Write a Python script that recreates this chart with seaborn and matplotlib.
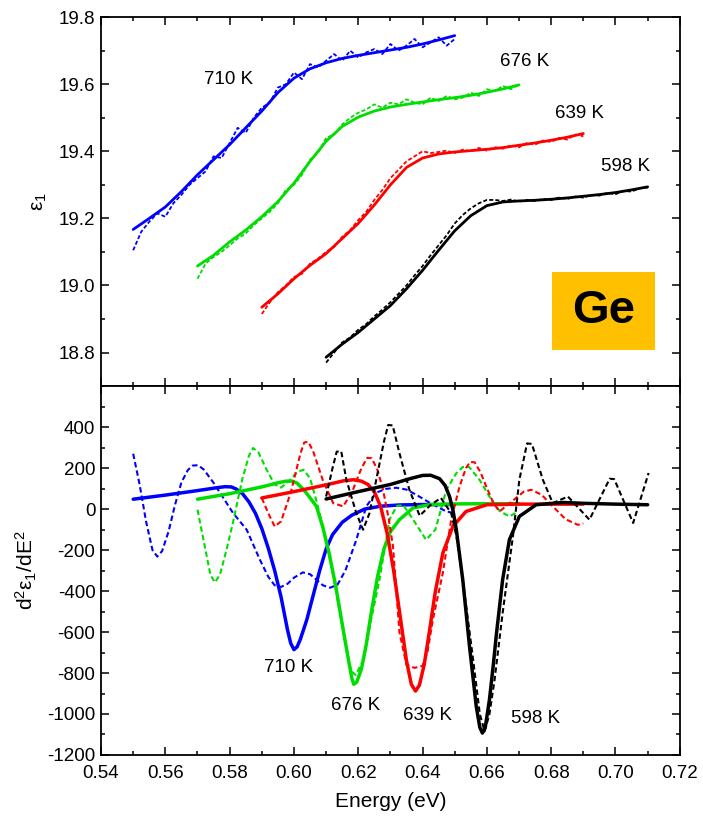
import numpy as np
import pandas as pd
import matplotlib
matplotlib.use("Agg")
import matplotlib.pyplot as plt
import seaborn as sns
from matplotlib.ticker import MultipleLocator, FormatStrFormatter
from matplotlib.patches import Rectangle

# temperaturas y energia inicial de cada medida
temps = ["710 K", "676 K", "639 K", "598 K"]
start_energy = [0.55, 0.57, 0.59, 0.61]
fit_grid = np.linspace(0, 0.10, 21)
data_grid = np.linspace(0, 0.10, 41)

# panel superior: epsilon_1 (ajuste)
eps_fit_710 = [19.167, 19.20, 19.234, 19.28, 19.33, 19.375, 19.42, 19.47, 19.52, 19.575, 19.618,
               19.646, 19.664, 19.677, 19.686, 19.694, 19.702, 19.71, 19.72, 19.732, 19.745]
eps_fit_676 = [19.058, 19.09, 19.13, 19.165, 19.205, 19.25, 19.305, 19.37, 19.43, 19.474, 19.502,
               19.52, 19.532, 19.54, 19.547, 19.554, 19.56, 19.567, 19.576, 19.586, 19.598]
eps_fit_639 = [18.935, 18.975, 19.02, 19.06, 19.095, 19.14, 19.185, 19.24, 19.30, 19.352, 19.38,
               19.392, 19.398, 19.402, 19.406, 19.411, 19.418, 19.425, 19.433, 19.442, 19.453]
eps_fit_598 = [18.786, 18.825, 18.86, 18.90, 18.94, 18.99, 19.045, 19.105, 19.163, 19.208, 19.238,
               19.249, 19.252, 19.254, 19.257, 19.261, 19.266, 19.271, 19.277, 19.285, 19.294]

# panel superior: epsilon_1 (datos medidos)
eps_data_710 = [19.105, 19.160, 19.190, 19.215, 19.205, 19.245, 19.270, 19.300, 19.320, 19.340, 19.385,
                19.380, 19.425, 19.470, 19.455, 19.500, 19.530, 19.545, 19.590, 19.600, 19.635, 19.615,
                19.660, 19.650, 19.670, 19.690, 19.670, 19.700, 19.680, 19.695, 19.705, 19.690, 19.720,
                19.700, 19.715, 19.735, 19.710, 19.725, 19.740, 19.715, 19.735]
eps_data_676 = [19.020, 19.065, 19.085, 19.100, 19.120, 19.140, 19.155, 19.180, 19.200, 19.220, 19.245,
                19.285, 19.300, 19.330, 19.375, 19.395, 19.440, 19.450, 19.480, 19.500, 19.515, 19.525,
                19.540, 19.530, 19.545, 19.540, 19.555, 19.545, 19.540, 19.560, 19.550, 19.565, 19.555,
                19.560, 19.575, 19.565, 19.585, 19.580, 19.595, 19.585, 19.600]
eps_data_639 = [18.915, 18.950, 18.980, 19.000, 19.025, 19.035, 19.065, 19.080, 19.100, 19.115, 19.145,
                19.165, 19.195, 19.220, 19.255, 19.285, 19.320, 19.345, 19.370, 19.385, 19.400, 19.395,
                19.398, 19.402, 19.395, 19.405, 19.400, 19.410, 19.402, 19.412, 19.408, 19.418, 19.412,
                19.425, 19.420, 19.432, 19.428, 19.440, 19.435, 19.450, 19.445]
eps_data_598 = [18.770, 18.800, 18.830, 18.845, 18.868, 18.885, 18.908, 18.928, 18.950, 18.975, 19.000,
                19.030, 19.058, 19.090, 19.120, 19.150, 19.185, 19.210, 19.230, 19.245, 19.255, 19.255,
                19.252, 19.256, 19.250, 19.255, 19.252, 19.258, 19.255, 19.262, 19.258, 19.265, 19.262,
                19.270, 19.268, 19.276, 19.272, 19.282, 19.280, 19.290, 19.292]

# panel inferior: d2eps/dE2 (ajuste)
d2_fit_710_x = [0.550, 0.560, 0.570, 0.576, 0.5785, 0.5805, 0.582, 0.584, 0.586, 0.588, 0.590, 0.592, 0.594,
                0.596, 0.598, 0.599, 0.600, 0.601, 0.602, 0.604, 0.606, 0.608, 0.610, 0.612, 0.615, 0.618,
                0.622, 0.627, 0.633, 0.640, 0.650]
d2_fit_710_y = [48, 68, 90, 104, 109, 108, 98, 75, 35, -20, -95, -190, -300, -430, -590, -655, -686, -672,
                -635, -540, -420, -300, -195, -125, -65, -30, 0, 14, 20, 22, 22]
d2_fit_676_x = [0.570, 0.580, 0.590, 0.595, 0.5975, 0.5995, 0.601, 0.603, 0.605, 0.607, 0.609, 0.611, 0.613,
                0.615, 0.617, 0.618, 0.6186, 0.6195, 0.621, 0.6225, 0.624, 0.626, 0.628, 0.630, 0.6328,
                0.637, 0.642, 0.650, 0.660, 0.670]
d2_fit_676_y = [48, 75, 108, 128, 136, 136, 126, 95, 55, 13, -90, -220, -377, -560, -740, -825, -855, -845,
                -780, -660, -510, -330, -195, -110, -52, 5, 21, 25, 26, 26]
d2_fit_639_x = [0.590, 0.600, 0.610, 0.6155, 0.6185, 0.621, 0.623, 0.625, 0.627, 0.629, 0.631, 0.633, 0.635,
                0.6365, 0.6378, 0.639, 0.6405, 0.642, 0.644, 0.6463, 0.6494, 0.6535, 0.660, 0.670, 0.680,
                0.690]
d2_fit_639_y = [54, 85, 118, 138, 143, 136, 120, 85, 10, -120, -300, -520, -740, -855, -888, -860, -760,
                -610, -400, -215, -85, -12, 21, 24, 24, 24]
d2_fit_598_x = [0.610, 0.620, 0.630, 0.6365, 0.640, 0.6425, 0.6453, 0.647, 0.6484, 0.6495, 0.6505, 0.6525,
                0.6546, 0.6567, 0.6578, 0.6586, 0.6595, 0.6608, 0.662, 0.663, 0.6649, 0.667, 0.6701, 0.6753,
                0.6836, 0.690, 0.700, 0.710]
d2_fit_598_y = [49, 85, 120, 150, 164, 165, 148, 115, 61, -10, -101, -345, -670, -963, -1065, -1093, -1065,
                -930, -760, -605, -345, -150, -36, 21, 32, 28, 24, 21]

# panel inferior: d2eps/dE2 (datos medidos)
d2_data_710_x = [0.550, 0.552, 0.554, 0.556, 0.5575, 0.559, 0.561, 0.563, 0.565, 0.567, 0.5685, 0.5702,
                 0.572, 0.575, 0.578, 0.581, 0.5853, 0.5894, 0.592, 0.594, 0.596, 0.598, 0.600, 0.6028, 0.605,
                 0.607, 0.609, 0.6112, 0.6135, 0.616, 0.6194, 0.6225, 0.6256, 0.6285, 0.6318, 0.635, 0.638,
                 0.6422, 0.6474, 0.650]
d2_data_710_y = [270, 120, -60, -200, -232, -205, -110, 20, 130, 190, 212, 214, 192, 128, 55, -18, -101, -247,
                 -330, -372, -380, -365, -335, -309, -318, -345, -372, -384, -370, -300, -150, 13, 80, 98, 104,
                 95, 70, 31, -12, -20]
d2_data_676_x = [0.570, 0.5725, 0.574, 0.5754, 0.577, 0.579, 0.581, 0.584, 0.586, 0.5873, 0.589, 0.5915,
                 0.594, 0.596, 0.598, 0.601, 0.603, 0.605, 0.607, 0.610, 0.613, 0.616, 0.6178, 0.6192, 0.6215,
                 0.624, 0.6266, 0.6297, 0.632, 0.634, 0.637, 0.6411, 0.644, 0.6474, 0.6505, 0.6525, 0.6545,
                 0.6577, 0.6608, 0.664, 0.667, 0.6691]
d2_data_676_y = [-3, -200, -320, -358, -320, -200, -68, 150, 260, 298, 275, 192, 120, 105, 130, 180, 192,
                 150, 40, -150, -390, -660, -790, -810, -740, -540, -345, -52, 15, 20, -50, -150, -100, 94,
                 175, 205, 205, 143, 61, -10, -36, -18]
d2_data_639_x = [0.590, 0.592, 0.594, 0.596, 0.599, 0.602, 0.6032, 0.6045, 0.606, 0.609, 0.6122, 0.6153,
                 0.618, 0.621, 0.6228, 0.6242, 0.626, 0.6277, 0.6295, 0.6308, 0.6328, 0.635, 0.6375, 0.640,
                 0.6415, 0.6432, 0.6463, 0.6489, 0.6515, 0.6535, 0.6548, 0.6562, 0.658, 0.6598, 0.662, 0.6639,
                 0.668, 0.6715, 0.6738, 0.677, 0.6805, 0.6845, 0.6883, 0.690]
d2_data_639_y = [54, -20, -85, -60, 80, 270, 325, 328, 280, 140, 29, 13, 80, 200, 250, 248, 190, 94, -50,
                 -182, -600, -760, -775, -765, -700, -540, -312, -52, 110, 200, 230, 228, 180, 110, 30, -12,
                 40, 85, 94, 70, 13, -50, -77, -70]
d2_data_598_x = [0.610, 0.612, 0.6133, 0.6147, 0.6163, 0.6194, 0.6215, 0.6235, 0.6256, 0.628, 0.6293,
                 0.6307, 0.6328, 0.6359, 0.6391, 0.6425, 0.6457, 0.6489, 0.6505, 0.6525, 0.6556, 0.6578,
                 0.6593, 0.6608, 0.6624, 0.6649, 0.6681, 0.6701, 0.6725, 0.674, 0.6774, 0.6805, 0.6852,
                 0.6919, 0.6982, 0.6996, 0.7055, 0.7103]
d2_data_598_y = [61, 200, 280, 282, 143, -20, -101, -20, 143, 330, 410, 408, 273, 94, -33, 20, 54, -20, -130,
                 -345, -719, -1000, -1085, -1000, -833, -507, -133, 143, 320, 318, 143, 29, 61, -52, 148, 146,
                 -68, 176]

# etiquetas de temperatura (posicion en datos)
label_top_x = [0.5798, 0.6717, 0.6888, 0.7032]
label_top_y = [19.613, 19.667, 19.514, 19.356]
label_bot_x = [0.5984, 0.6192, 0.6416, 0.6751]
label_bot_y = [-774, -957, -1008, -1023]

colors = {"710 K": "#0000FF", "676 K": "#00DD00", "639 K": "#FF0000", "598 K": "#000000"}


def build_top():
    fits = [eps_fit_710, eps_fit_676, eps_fit_639, eps_fit_598]
    datas = [eps_data_710, eps_data_676, eps_data_639, eps_data_598]
    frames = []
    for t, e0, f, d in zip(temps, start_energy, fits, datas):
        frames.append(pd.DataFrame({"E": e0 + data_grid, "v": d, "temp": t, "kind": "data"}))
        frames.append(pd.DataFrame({"E": e0 + fit_grid, "v": f, "temp": t, "kind": "fit"}))
    return pd.concat(frames, ignore_index=True)


def build_bottom():
    series = [
        ("710 K", d2_fit_710_x, d2_fit_710_y, d2_data_710_x, d2_data_710_y),
        ("676 K", d2_fit_676_x, d2_fit_676_y, d2_data_676_x, d2_data_676_y),
        ("639 K", d2_fit_639_x, d2_fit_639_y, d2_data_639_x, d2_data_639_y),
        ("598 K", d2_fit_598_x, d2_fit_598_y, d2_data_598_x, d2_data_598_y),
    ]
    frames = []
    for t, fx, fy, dx, dy in series:
        frames.append(pd.DataFrame({"E": dx, "v": dy, "temp": t, "kind": "data"}))
        frames.append(pd.DataFrame({"E": fx, "v": fy, "temp": t, "kind": "fit"}))
    return pd.concat(frames, ignore_index=True)


sns.set_style("ticks")
plt.rcParams["font.family"] = ["Liberation Sans", "DejaVu Sans"]
plt.rcParams["mathtext.fontset"] = "custom"
plt.rcParams["mathtext.rm"] = "Liberation Sans"
plt.rcParams["mathtext.it"] = "Liberation Sans:italic"
plt.rcParams["axes.unicode_minus"] = False
for key in ["text.color", "axes.labelcolor", "xtick.color", "ytick.color", "axes.edgecolor"]:
    plt.rcParams[key] = "black"

fig, (ax1, ax2) = plt.subplots(2, 1, sharex=True, figsize=(7.03, 8.17), dpi=100)
fig.subplots_adjust(left=0.1437, right=0.967, top=0.979, bottom=0.0759, hspace=0)

top = build_top()
sns.lineplot(data=top, x="E", y="v", hue="temp", style="kind", size="kind",
             hue_order=temps, palette=colors,
             dashes={"data": (2.2, 1.2), "fit": ""}, sizes={"data": 1.3, "fit": 2.0},
             estimator=None, sort=False, legend=False, ax=ax1)

bot = build_bottom()
sns.lineplot(data=bot, x="E", y="v", hue="temp", style="kind", size="kind",
             hue_order=temps, palette=colors,
             dashes={"data": (2.6, 1.5), "fit": ""}, sizes={"data": 1.5, "fit": 2.5},
             estimator=None, sort=False, legend=False, ax=ax2)

for t, x, y in zip(temps, label_top_x, label_top_y):
    ax1.text(x, y, t, ha="center", va="center", fontsize=13.5)
for t, x, y in zip(temps, label_bot_x, label_bot_y):
    ax2.text(x, y, t, ha="center", va="center", fontsize=13.5)

# recuadro "Ge"
ax1.add_patch(Rectangle((0.779, 0.099), 0.178, 0.211, transform=ax1.transAxes,
                        facecolor="#FFC000", edgecolor="none", zorder=3))
ax1.text(0.868, 0.204, "Ge", transform=ax1.transAxes, ha="center", va="center",
         fontsize=34, fontweight="bold", color="black", zorder=4)

ax1.set_xlim(0.54, 0.72)
ax1.set_ylim(18.7, 19.8)
ax1.set_yticks([18.8, 19.0, 19.2, 19.4, 19.6, 19.8])
ax1.yaxis.set_major_formatter(FormatStrFormatter("%.1f"))
ax1.yaxis.set_minor_locator(MultipleLocator(0.1))
ax2.set_ylim(-1200, 600)
ax2.set_yticks(np.arange(-1200, 401, 200))
ax2.yaxis.set_minor_locator(MultipleLocator(100))
ax2.set_xticks(np.arange(0.54, 0.7201, 0.02))
ax2.xaxis.set_major_formatter(FormatStrFormatter("%.2f"))
ax2.xaxis.set_minor_locator(MultipleLocator(0.01))

for ax in (ax1, ax2):
    for s in ax.spines.values():
        s.set_visible(True)
        s.set_linewidth(1.3)
        s.set_color("black")
    ax.tick_params(which="both", direction="in", top=True, right=True, width=1.1, colors="black",
                   labelsize=13.5, pad=4)
    ax.tick_params(which="major", length=6)
    ax.tick_params(which="minor", length=3)
ax2.tick_params(axis="x", which="both", pad=7)

ax1.set_xlabel("")
ax1.set_ylabel("ε$_1$", fontsize=15)
ax1.yaxis.set_label_coords(-0.09, 0.5)
ax2.set_ylabel("d$^2$ε$_1$/dE$^2$", fontsize=15)
ax2.yaxis.set_label_coords(-0.108, 0.5)
ax2.set_xlabel("Energy (eV)", fontsize=15)
ax2.xaxis.set_label_coords(0.5, -0.1)

fig.savefig("out.png", dpi=100)
